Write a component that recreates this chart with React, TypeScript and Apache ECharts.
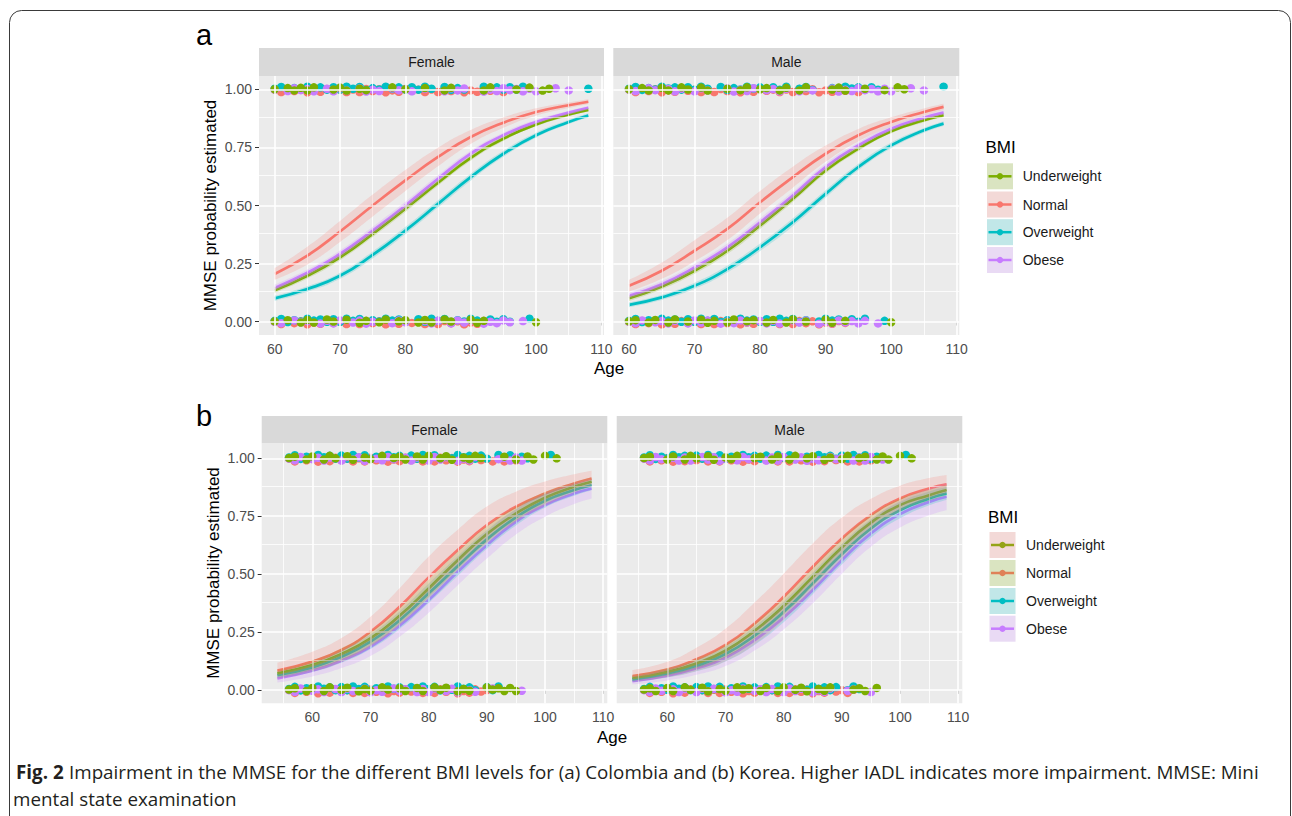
import React, { useEffect, useRef } from "react";
import * as echarts from "echarts";

const FONT = "'Liberation Sans', Arial, sans-serif";
const CAPTION_FONT = "'Open Sans', 'Noto Sans', sans-serif";

const RED = "#F8766D";
const GREEN = "#7CAE00";
const CYAN = "#00BFC4";
const PURPLE = "#C77CFF";

const legendLabels = ["Underweight", "Normal", "Overweight", "Obese"];
const legendLineA = [GREEN, RED, CYAN, PURPLE];
const legendFillA = [GREEN, RED, CYAN, PURPLE];
const legendLineB = [GREEN, RED, CYAN, PURPLE];
const legendFillB = [RED, GREEN, CYAN, PURPLE];

const xTicks = [60, 70, 80, 90, 100, 110];
const yTicks = [0, 0.25, 0.5, 0.75, 1];
const xMinorA = [65, 75, 85, 95, 105];
const xMinorB = [55, 65, 75, 85, 95, 105];
const yMinor = [0.125, 0.375, 0.625, 0.875];

// ages at which the fitted curves were read
const ageA = [60, 65, 70, 75, 80, 85, 90, 95, 100, 105, 108];
const ageB = [54, 60, 65, 70, 75, 80, 85, 90, 95, 100, 105, 108];

// (a) Colombia, Female
const aF_Normal = [0.205, 0.284, 0.388, 0.5, 0.608, 0.709, 0.795, 0.857, 0.903, 0.932, 0.947];
const aF_Under = [0.135, 0.197, 0.277, 0.378, 0.486, 0.598, 0.705, 0.788, 0.849, 0.892, 0.912];
const aF_Obese = [0.145, 0.21, 0.291, 0.392, 0.5, 0.615, 0.723, 0.803, 0.86, 0.9, 0.921];
const aF_Over = [0.1, 0.14, 0.197, 0.287, 0.392, 0.507, 0.622, 0.723, 0.803, 0.86, 0.888];
const aF_NormalCI = [0.025, 0.038, 0.045, 0.047, 0.045, 0.04, 0.03, 0.022, 0.016, 0.012, 0.011];
const aF_UnderCI = [0.012, 0.012, 0.013, 0.014, 0.014, 0.013, 0.012, 0.01, 0.008, 0.007, 0.007];
const aF_ObeseCI = [0.014, 0.014, 0.015, 0.016, 0.016, 0.015, 0.013, 0.011, 0.009, 0.008, 0.008];
const aF_OverCI = [0.011, 0.012, 0.013, 0.015, 0.016, 0.016, 0.015, 0.013, 0.011, 0.009, 0.009];

// (a) Colombia, Male
const aM_Normal = [0.154, 0.219, 0.305, 0.399, 0.514, 0.622, 0.723, 0.803, 0.86, 0.903, 0.925];
const aM_Under = [0.1, 0.151, 0.219, 0.305, 0.414, 0.529, 0.651, 0.745, 0.82, 0.867, 0.889];
const aM_Obese = [0.111, 0.161, 0.233, 0.32, 0.428, 0.543, 0.666, 0.759, 0.831, 0.878, 0.9];
const aM_Over = [0.072, 0.104, 0.154, 0.226, 0.32, 0.428, 0.55, 0.666, 0.759, 0.824, 0.853];
const aM_NormalCI = [0.025, 0.035, 0.045, 0.048, 0.048, 0.045, 0.035, 0.027, 0.02, 0.015, 0.013];
const aM_UnderCI = [0.012, 0.012, 0.013, 0.014, 0.015, 0.014, 0.013, 0.011, 0.009, 0.008, 0.008];
const aM_ObeseCI = [0.013, 0.014, 0.015, 0.016, 0.017, 0.016, 0.014, 0.012, 0.01, 0.009, 0.009];
const aM_OverCI = [0.01, 0.011, 0.013, 0.015, 0.016, 0.017, 0.016, 0.014, 0.012, 0.01, 0.01];

// (b) Korea, Female
const bF_Normal = [0.083, 0.122, 0.172, 0.251, 0.359, 0.486, 0.604, 0.712, 0.791, 0.848, 0.891, 0.913];
const bF_Under = [0.071, 0.107, 0.155, 0.222, 0.32, 0.438, 0.56, 0.673, 0.762, 0.83, 0.877, 0.899];
const bF_Over = [0.064, 0.097, 0.143, 0.208, 0.301, 0.417, 0.535, 0.65, 0.745, 0.817, 0.863, 0.884];
const bF_Obese = [0.05, 0.083, 0.126, 0.186, 0.277, 0.388, 0.51, 0.625, 0.726, 0.798, 0.848, 0.87];
const bF_NormalCI = [0.035, 0.043, 0.052, 0.065, 0.08, 0.09, 0.088, 0.08, 0.065, 0.052, 0.04, 0.033];
const bF_UnderCI = [0.015, 0.02, 0.025, 0.03, 0.035, 0.038, 0.038, 0.035, 0.03, 0.025, 0.02, 0.018];
const bF_OverCI = [0.015, 0.02, 0.026, 0.032, 0.038, 0.042, 0.042, 0.04, 0.035, 0.03, 0.025, 0.022];
const bF_ObeseCI = [0.018, 0.025, 0.032, 0.04, 0.048, 0.055, 0.058, 0.058, 0.055, 0.05, 0.045, 0.043];

// (b) Korea, Male
const bM_Normal = [0.06, 0.088, 0.132, 0.194, 0.287, 0.402, 0.532, 0.654, 0.755, 0.827, 0.87, 0.888];
const bM_Under = [0.052, 0.078, 0.114, 0.169, 0.255, 0.362, 0.488, 0.615, 0.722, 0.798, 0.841, 0.863];
const bM_Over = [0.045, 0.071, 0.104, 0.155, 0.234, 0.337, 0.46, 0.586, 0.697, 0.776, 0.827, 0.848];
const bM_Obese = [0.038, 0.061, 0.093, 0.139, 0.215, 0.313, 0.431, 0.56, 0.676, 0.759, 0.812, 0.834];
const bM_NormalCI = [0.025, 0.033, 0.05, 0.07, 0.09, 0.1, 0.1, 0.09, 0.07, 0.055, 0.045, 0.04];
const bM_UnderCI = [0.012, 0.016, 0.022, 0.028, 0.034, 0.038, 0.04, 0.038, 0.033, 0.028, 0.024, 0.022];
const bM_OverCI = [0.012, 0.018, 0.024, 0.032, 0.04, 0.045, 0.047, 0.045, 0.04, 0.035, 0.03, 0.028];
const bM_ObeseCI = [0.014, 0.02, 0.028, 0.036, 0.045, 0.052, 0.057, 0.058, 0.058, 0.058, 0.058, 0.058];

// observed ages (inclusive [from, to] runs) of the raw outcomes, outcome 1 (top) and 0 (bottom)
const aF_top_Normal = [[60, 95]];
const aF_top_Over = [[60, 84], [86, 89], [92, 98], [108, 108]];
const aF_top_Obese = [[60, 60], [62, 66], [68, 71], [73, 76], [78, 81], [83, 83], [86, 89], [92, 100], [103, 103], [105, 105]];
const aF_top_Under = [[60, 60], [62, 66], [69, 71], [73, 74], [78, 78], [80, 80], [83, 83], [86, 87], [92, 93], [97, 97], [99, 99], [101, 102]];
const aF_bot_Normal = [[60, 92]];
const aF_bot_Over = [[60, 80], [82, 91], [93, 96], [99, 99]];
const aF_bot_Obese = [[60, 61], [63, 65], [67, 70], [72, 75], [78, 80], [83, 85], [87, 90], [92, 96], [98, 98]];
const aF_bot_Under = [[60, 60], [62, 62], [64, 66], [68, 69], [71, 71], [73, 74], [76, 77], [79, 80], [82, 84], [86, 87], [90, 92], [100, 100]];

const aM_top_Normal = [[60, 96]];
const aM_top_Over = [[60, 72], [74, 84], [86, 88], [91, 98], [108, 108]];
const aM_top_Obese = [[60, 61], [63, 64], [66, 68], [70, 72], [75, 79], [81, 84], [86, 88], [91, 100], [103, 103], [105, 105]];
const aM_top_Under = [[60, 60], [62, 63], [65, 66], [68, 69], [71, 72], [75, 75], [77, 78], [80, 81], [83, 84], [86, 87], [91, 93], [96, 96], [99, 99], [101, 102]];
const aM_bot_Normal = [[60, 93]];
const aM_bot_Over = [[60, 87], [89, 96], [99, 99]];
const aM_bot_Obese = [[60, 62], [64, 67], [69, 72], [74, 78], [80, 83], [85, 87], [89, 96], [98, 98]];
const aM_bot_Under = [[60, 61], [63, 64], [66, 67], [69, 69], [71, 73], [75, 76], [78, 79], [81, 82], [84, 85], [87, 87], [90, 91], [93, 93], [100, 100]];

const bF_top_Normal = [[56, 95]];
const bF_top_Over = [[56, 90], [92, 97], [101, 101]];
const bF_top_Obese = [[56, 58], [60, 63], [65, 69], [71, 74], [76, 78], [80, 83], [85, 88], [92, 96]];
const bF_top_Under = [[56, 57], [59, 60], [62, 64], [66, 67], [69, 70], [72, 72], [74, 76], [78, 80], [82, 84], [86, 89], [93, 93], [95, 95], [97, 98], [100, 100], [102, 102]];
const bF_bot_Normal = [[56, 90]];
const bF_bot_Over = [[56, 88], [90, 92]];
const bF_bot_Obese = [[56, 58], [60, 62], [64, 67], [69, 72], [74, 76], [78, 81], [83, 85], [87, 88], [91, 91], [96, 96]];
const bF_bot_Under = [[56, 57], [59, 60], [62, 63], [65, 66], [68, 70], [72, 73], [75, 76], [78, 79], [81, 83], [85, 87], [90, 95]];

const bM_top_Normal = [[56, 96]];
const bM_top_Over = [[56, 82], [84, 97], [101, 101]];
const bM_top_Obese = [[56, 59], [61, 64], [66, 70], [72, 75], [77, 80], [82, 86], [88, 90], [92, 95], [97, 97]];
const bM_top_Under = [[56, 57], [60, 61], [63, 65], [67, 68], [70, 72], [75, 76], [78, 79], [81, 82], [84, 85], [87, 88], [90, 91], [93, 94], [96, 98], [100, 100], [102, 102]];
const bM_bot_Normal = [[56, 92]];
const bM_bot_Over = [[56, 89], [91, 93]];
const bM_bot_Obese = [[56, 59], [61, 63], [65, 68], [70, 73], [75, 78], [80, 83], [85, 88], [91, 92], [95, 95]];
const bM_bot_Under = [[56, 58], [60, 61], [63, 64], [66, 67], [69, 70], [72, 74], [76, 77], [79, 80], [82, 84], [86, 88], [92, 94], [96, 96]];

// vertical jitter of the raw points: a group offset plus a repeating set of small offsets
const jitterNormal = -0.005;
const jitterOver = 0.005;
const jitterObese = -0.002;
const jitterUnder = 0.002;
const jitterSteps = [0.005, -0.006, 0.007, -0.002, 0.006, -0.007, 0.001, -0.005, 0.007, -0.001, 0.004, -0.006];

const expand = (runs: number[][]) => {
  const out: number[] = [];
  runs.forEach(([s, e]) => {
    for (let a = s; a <= e; a++) out.push(a);
  });
  return out;
};

type Rows = { runs: number[][]; color: string; j: number; shift: number }[];
type Panel = {
  grid: { left: number; top: number; width: number; height: number };
  xMin: number; xMax: number; yMin: number; yMax: number;
  xMinor: number[];
  strip: string;
  stripTop: number;
  showY: boolean;
  ages: number[];
  curves: { mid: number[]; ci: number[]; color: string }[];
  top: Rows;
  bot: Rows;
  jScale: number;
};

const rows = (n: number[][], o: number[][], ob: number[][], u: number[][]): Rows => [
  { runs: n, color: RED, j: jitterNormal, shift: 0 },
  { runs: o, color: CYAN, j: jitterOver, shift: 3 },
  { runs: ob, color: PURPLE, j: jitterObese, shift: 6 },
  { runs: u, color: GREEN, j: jitterUnder, shift: 9 },
];

const panels: Panel[] = [
  {
    grid: { left: 259, top: 76, width: 345, height: 259 },
    xMin: 57.6, xMax: 110.4, yMin: -0.058, yMax: 1.058, xMinor: xMinorA,
    strip: "Female", stripTop: 48, showY: true, ages: ageA, jScale: 1,
    curves: [
      { mid: aF_Normal, ci: aF_NormalCI, color: RED },
      { mid: aF_Over, ci: aF_OverCI, color: CYAN },
      { mid: aF_Under, ci: aF_UnderCI, color: GREEN },
      { mid: aF_Obese, ci: aF_ObeseCI, color: PURPLE },
    ],
    top: rows(aF_top_Normal, aF_top_Over, aF_top_Obese, aF_top_Under),
    bot: rows(aF_bot_Normal, aF_bot_Over, aF_bot_Obese, aF_bot_Under),
  },
  {
    grid: { left: 613.3, top: 76, width: 346, height: 259 },
    xMin: 57.6, xMax: 110.4, yMin: -0.058, yMax: 1.058, xMinor: xMinorA,
    strip: "Male", stripTop: 48, showY: false, ages: ageA, jScale: 1,
    curves: [
      { mid: aM_Normal, ci: aM_NormalCI, color: RED },
      { mid: aM_Over, ci: aM_OverCI, color: CYAN },
      { mid: aM_Under, ci: aM_UnderCI, color: GREEN },
      { mid: aM_Obese, ci: aM_ObeseCI, color: PURPLE },
    ],
    top: rows(aM_top_Normal, aM_top_Over, aM_top_Obese, aM_top_Under),
    bot: rows(aM_bot_Normal, aM_bot_Over, aM_bot_Obese, aM_bot_Under),
  },
  {
    grid: { left: 261.7, top: 443.3, width: 345.6, height: 260 },
    xMin: 51.3, xMax: 110.7, yMin: -0.058, yMax: 1.065, xMinor: xMinorB,
    strip: "Female", stripTop: 416, showY: true, ages: ageB, jScale: 1.2,
    curves: [
      { mid: bF_Obese, ci: bF_ObeseCI, color: PURPLE },
      { mid: bF_Over, ci: bF_OverCI, color: CYAN },
      { mid: bF_Under, ci: bF_UnderCI, color: GREEN },
      { mid: bF_Normal, ci: bF_NormalCI, color: RED },
    ],
    top: rows(bF_top_Normal, bF_top_Over, bF_top_Obese, bF_top_Under),
    bot: rows(bF_bot_Normal, bF_bot_Over, bF_bot_Obese, bF_bot_Under),
  },
  {
    grid: { left: 616.7, top: 443.3, width: 345.6, height: 260 },
    xMin: 51.3, xMax: 110.7, yMin: -0.058, yMax: 1.065, xMinor: xMinorB,
    strip: "Male", stripTop: 416, showY: false, ages: ageB, jScale: 1.2,
    curves: [
      { mid: bM_Obese, ci: bM_ObeseCI, color: PURPLE },
      { mid: bM_Over, ci: bM_OverCI, color: CYAN },
      { mid: bM_Under, ci: bM_UnderCI, color: GREEN },
      { mid: bM_Normal, ci: bM_NormalCI, color: RED },
    ],
    top: rows(bM_top_Normal, bM_top_Over, bM_top_Obese, bM_top_Under),
    bot: rows(bM_bot_Normal, bM_bot_Over, bM_bot_Obese, bM_bot_Under),
  },
];

const SMOOTH = 0.5;

function buildOption() {
  const series: any[] = [];
  const graphic: any[] = [];

  panels.forEach((p, i) => {
    // grid lines
    const ml: any[] = [];
    p.xMinor.forEach((v) => ml.push({ xAxis: v, lineStyle: { width: 0.8 } }));
    yMinor.forEach((v) => ml.push({ yAxis: v, lineStyle: { width: 0.8 } }));
    xTicks.forEach((v) => ml.push({ xAxis: v, lineStyle: { width: 1.6 } }));
    yTicks.forEach((v) => ml.push({ yAxis: v, lineStyle: { width: 1.6 } }));
    series.push({
      type: "line",
      xAxisIndex: i,
      yAxisIndex: i,
      data: [[p.xMin, p.yMin]],
      symbol: "none",
      showSymbol: false,
      lineStyle: { opacity: 0 },
      silent: true,
      z: 1,
      markLine: {
        silent: true,
        symbol: ["none", "none"],
        label: { show: false },
        lineStyle: { color: "#FFFFFF", type: "solid", opacity: 1 },
        emphasis: { disabled: true },
        data: ml,
        animation: false,
      },
    });

    // raw points
    const addPts = (rs: Rows, yv: number) => {
      rs.forEach((r) => {
        series.push({
          type: "scatter",
          xAxisIndex: i,
          yAxisIndex: i,
          symbolSize: 8.5,
          itemStyle: { color: r.color, opacity: 1 },
          data: expand(r.runs).map((a, k) => [
            a,
            yv + (r.j + jitterSteps[(k + r.shift) % jitterSteps.length]) * p.jScale,
          ]),
          silent: true,
          z: 3,
        });
      });
    };
    addPts(p.top, 1);
    addPts(p.bot, 0);

    // fitted curves
    p.curves.forEach((c) => {
      series.push({
        type: "line",
        xAxisIndex: i,
        yAxisIndex: i,
        data: p.ages.map((a, k) => [a, c.mid[k]]),
        smooth: SMOOTH,
        symbol: "none",
        showSymbol: false,
        lineStyle: { color: c.color, width: 2.7 },
        silent: true,
        z: 4,
      });
    });

    // confidence ribbons (lower edge + stacked width)
    p.curves.forEach((c, ci) => {
      const key = "band" + i + "_" + ci;
      series.push({
        type: "line",
        xAxisIndex: i,
        yAxisIndex: i,
        stack: key,
        encode: { x: 1, y: 0 },
        data: p.ages.map((a, k) => [c.mid[k] - c.ci[k], a]),
        smooth: SMOOTH,
        symbol: "none",
        showSymbol: false,
        lineStyle: { opacity: 0, width: 0 },
        silent: true,
        z: 5,
      });
      series.push({
        type: "line",
        xAxisIndex: i,
        yAxisIndex: i,
        stack: key,
        encode: { x: 1, y: 0 },
        data: p.ages.map((a, k) => [2 * c.ci[k], a]),
        smooth: SMOOTH,
        symbol: "none",
        showSymbol: false,
        lineStyle: { opacity: 0, width: 0 },
        areaStyle: { color: c.color, opacity: 0.2 },
        silent: true,
        z: 5,
      });
    });

    // strip
    graphic.push({
      type: "rect",
      shape: { x: p.grid.left, y: p.stripTop, width: p.grid.width, height: p.grid.top - p.stripTop },
      style: { fill: "#D9D9D9" },
      silent: true,
    });
    graphic.push({
      type: "text",
      x: p.grid.left + p.grid.width / 2,
      y: (p.stripTop + p.grid.top) / 2,
      style: {
        text: p.strip,
        fill: "#1A1A1A",
        font: `14px ${FONT}`,
        textAlign: "center",
        textVerticalAlign: "middle",
        align: "center",
        verticalAlign: "middle",
      },
      silent: true,
    });
  });

  const txt = (text: string, x: number, y: number, size: number, opts: any = {}) => ({
    type: "text",
    x,
    y,
    rotation: opts.rotation || 0,
    style: {
      text,
      fill: opts.fill || "#000000",
      font: `${opts.weight || "normal"} ${size}px ${opts.family || FONT}`,
      textAlign: opts.align || "center",
      textVerticalAlign: "middle",
      align: opts.align || "center",
      verticalAlign: "middle",
    },
    silent: true,
  });

  // panel letters
  graphic.push(txt("a", 196, 35, 29, { align: "left" }));
  graphic.push(txt("b", 196, 416, 29, { align: "left" }));
  // axis titles
  graphic.push(txt("Age", 609, 368, 17));
  graphic.push(txt("Age", 612, 737, 17));
  graphic.push(txt("MMSE probability estimated", 210, 205.5, 17, { rotation: Math.PI / 2 }));
  graphic.push(txt("MMSE probability estimated", 213, 573, 17, { rotation: Math.PI / 2 }));

  // legends
  const legend = (x0: number, titleY: number, rowY: number[], lines: string[], fills: string[], lineOnTop: boolean, labelX: number) => {
    graphic.push(txt("BMI", x0 - 1, titleY, 17, { align: "left" }));
    legendLabels.forEach((lab, k) => {
      const cy = rowY[k];
      graphic.push({
        type: "rect",
        shape: { x: x0, y: cy - 13.5, width: 27, height: 27 },
        style: { fill: "#F2F2F2", stroke: "#FFFFFF", lineWidth: 1 },
        silent: true,
      });
      const fillRect = {
        type: "rect",
        shape: { x: x0 + 0.5, y: cy - 13, width: 26, height: 26 },
        style: { fill: fills[k], opacity: 0.2 },
        silent: true,
      };
      const line = {
        type: "line",
        shape: { x1: x0 + 2, y1: cy, x2: x0 + 25, y2: cy },
        style: { stroke: lines[k], lineWidth: 2.5 },
        silent: true,
      };
      const dot = {
        type: "circle",
        shape: { cx: x0 + 13.5, cy, r: 3.2 },
        style: { fill: lines[k] },
        silent: true,
      };
      if (lineOnTop) {
        graphic.push(fillRect, line, dot);
      } else {
        graphic.push(line, dot, fillRect);
      }
      graphic.push(txt(lab, labelX, cy, 14, { align: "left", fill: "#1A1A1A" }));
    });
  };
  legend(986.5, 147.5, [176.3, 204.5, 232.2, 260], legendLineA, legendFillA, true, 1022.7);
  legend(989, 517, [545, 573, 601, 628.7], legendLineB, legendFillB, false, 1026);

  // caption
  graphic.push(txt("Fig. 2", 16, 772, 18.8, { align: "left", weight: "bold", family: CAPTION_FONT, fill: "#231F20" }));
  graphic.push(
    txt(
      "Impairment in the MMSE for the different BMI levels for (a) Colombia and (b) Korea. Higher IADL indicates more impairment. MMSE: Mini",
      69, 772, 18.8, { align: "left", family: CAPTION_FONT, fill: "#231F20" }
    )
  );
  graphic.push(txt("mental state examination", 13, 799, 18.8, { align: "left", family: CAPTION_FONT, fill: "#231F20" }));

  // outer frame
  graphic.push({
    type: "rect",
    shape: { x: 9.5, y: 10.5, width: 1281, height: 840, r: 12 },
    style: { fill: "none", stroke: "#3A3A3A", lineWidth: 1 },
    silent: true,
  });

  return {
    animation: false,
    backgroundColor: "#FFFFFF",
    tooltip: { show: false },
    grid: panels.map((p) => ({
      left: p.grid.left,
      top: p.grid.top,
      width: p.grid.width,
      height: p.grid.height,
      show: true,
      backgroundColor: "#EBEBEB",
      borderWidth: 0,
      containLabel: false,
    })),
    xAxis: panels.map((p, i) => ({
      type: "value",
      gridIndex: i,
      min: p.xMin,
      max: p.xMax,
      axisLine: { show: false },
      splitLine: { show: false },
      minorSplitLine: { show: false },
      axisTick: { show: true, customValues: xTicks, length: 4, lineStyle: { color: "#333333", width: 1 } },
      axisLabel: {
        show: true,
        customValues: xTicks,
        color: "#4D4D4D",
        fontSize: 14,
        fontFamily: FONT,
        margin: 7,
        formatter: (v: number) => String(v),
      },
    })),
    yAxis: panels.map((p, i) => ({
      type: "value",
      gridIndex: i,
      min: p.yMin,
      max: p.yMax,
      axisLine: { show: false },
      splitLine: { show: false },
      minorSplitLine: { show: false },
      axisTick: { show: p.showY, customValues: yTicks, length: 4, lineStyle: { color: "#333333", width: 1 } },
      axisLabel: {
        show: p.showY,
        customValues: yTicks,
        color: "#4D4D4D",
        fontSize: 14,
        fontFamily: FONT,
        margin: 7,
        formatter: (v: number) => v.toFixed(2),
      },
    })),
    series,
    graphic: { elements: graphic },
  };
}

export default function App() {
  const ref = useRef<HTMLDivElement>(null);
  useEffect(() => {
    if (!ref.current) return;
    const chart = echarts.init(ref.current, undefined, { renderer: "svg" });
    chart.setOption(buildOption() as any);
    return () => chart.dispose();
  }, []);
  return (
    <div
      ref={ref}
      style={{ position: "absolute", left: 0, top: 0, width: 1292, height: 816, background: "#FFFFFF" }}
    />
  );
}
